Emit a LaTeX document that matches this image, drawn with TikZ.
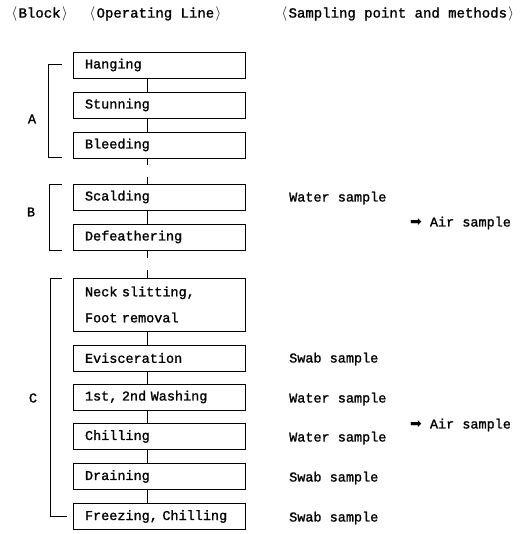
\documentclass[tikz,border=0pt]{standalone}
\usepackage{fontspec}
\setmainfont{Liberation Mono}[WordSpace={1,0,0}, FakeBold=1.2]
\newfontfamily\arrowfont{DejaVu Sans}
\usepackage{tikz}
\usetikzlibrary{positioning,calc}

\newcommand\lab{\makebox[0.6em]{$\langle$}}
\newcommand\rab{\makebox[0.6em]{$\rangle$}}

\begin{document}
\begin{tikzpicture}[
  x=1pt, y=-1pt,
  every node/.style={font=\fontsize{13.5}{26}\selectfont, inner sep=0pt},
  stage/.style={draw, line width=0.8pt, minimum width=172pt, minimum height=26pt,
                text width=148pt, inner xsep=12pt, align=left},
  head/.style={anchor=west, font=\fontsize{14}{14}\selectfont},
  smp/.style={anchor=west},
  lnk/.style={line width=0.8pt},
  brk/.style={line width=0.8pt},
]
  \useasboundingbox (0,0) rectangle (522,534);

  % headings
  \node[head] (hblock) at (10,14) {\lab Block\rab};
  \node[head] (hline) at (88,14) {\lab Operating Line\rab};
  \node[head] (hsmp) at (280,14) {\lab Sampling point and methods\rab};

  % operating line
  \node[stage] (hang) at (159,65) {Hanging};
  \node[stage] (stun) at (159,105) {Stunning};
  \node[stage] (bleed) at (159,145) {Bleeding};
  \node[stage] (scald) at (159,197) {Scalding};
  \node[stage] (defeath) at (159,237) {Defeathering};
  \node[stage, minimum height=53pt] (neck) at (159,304.5) {Neck slitting,\\Foot removal};
  \node[stage] (evisc) at (159,358) {Evisceration};
  \node[stage] (wash) at (159,397) {1st, 2nd Washing};
  \node[stage] (chill) at (159,436.5) {Chilling};
  \node[stage] (drain) at (159,476.5) {Draining};
  \node[stage] (freeze) at (159,516.5) {Freezing, Chilling};

  \coordinate (ln) at (147,0);
  \draw[lnk] (hang.south -| ln) -- (stun.north -| ln);
  \draw[lnk] (stun.south -| ln) -- (bleed.north -| ln);
  \draw[lnk] (bleed.south -| ln) -- ++(0,7);
  \draw[lnk] (scald.north -| ln) -- ++(0,-7);
  \draw[lnk] (scald.south -| ln) -- (defeath.north -| ln);
  \draw[lnk] (defeath.south -| ln) -- ++(0,8);
  \draw[lnk] (neck.north -| ln) -- ++(0,-8);
  \draw[lnk] (neck.south -| ln) -- (evisc.north -| ln);
  \draw[lnk] (evisc.south -| ln) -- (wash.north -| ln);
  \draw[lnk] (wash.south -| ln) -- (chill.north -| ln);
  \draw[lnk] (chill.south -| ln) -- (drain.north -| ln);
  \draw[lnk] (drain.south -| ln) -- (freeze.north -| ln);

  % blocks
  \draw[brk] (62,64) -- (48,64) -- (48,157) -- (62,157);
  \draw[brk] (62,184) -- (49,184) -- (49,250) -- (62,250);
  \draw[brk] (62,278) -- (50,278) -- (50,516) -- (67,516);
  \node (blka) at (32,119) {A};
  \node (blkb) at (31,212) {B};
  \node (blkc) at (33,398) {C};

  % sampling
  \node[smp] (sscald) at (289,198) {Water sample};
  \node[smp] (sevisc) at (289,359) {Swab sample};
  \node[smp] (swash) at (289,399) {Water sample};
  \node[smp] (schill) at (289,438) {Water sample};
  \node[smp] (sdrain) at (289,478) {Swab sample};
  \node[smp] (sfreeze) at (289,518) {Swab sample};
  \node[smp] (air1) at (410,223) {{\arrowfont\fontsize{14}{14}\selectfont ➡}\hspace{8pt}Air sample};
  \node[smp] (air2) at (410,425) {{\arrowfont\fontsize{14}{14}\selectfont ➡}\hspace{8pt}Air sample};
\end{tikzpicture}
\end{document}
